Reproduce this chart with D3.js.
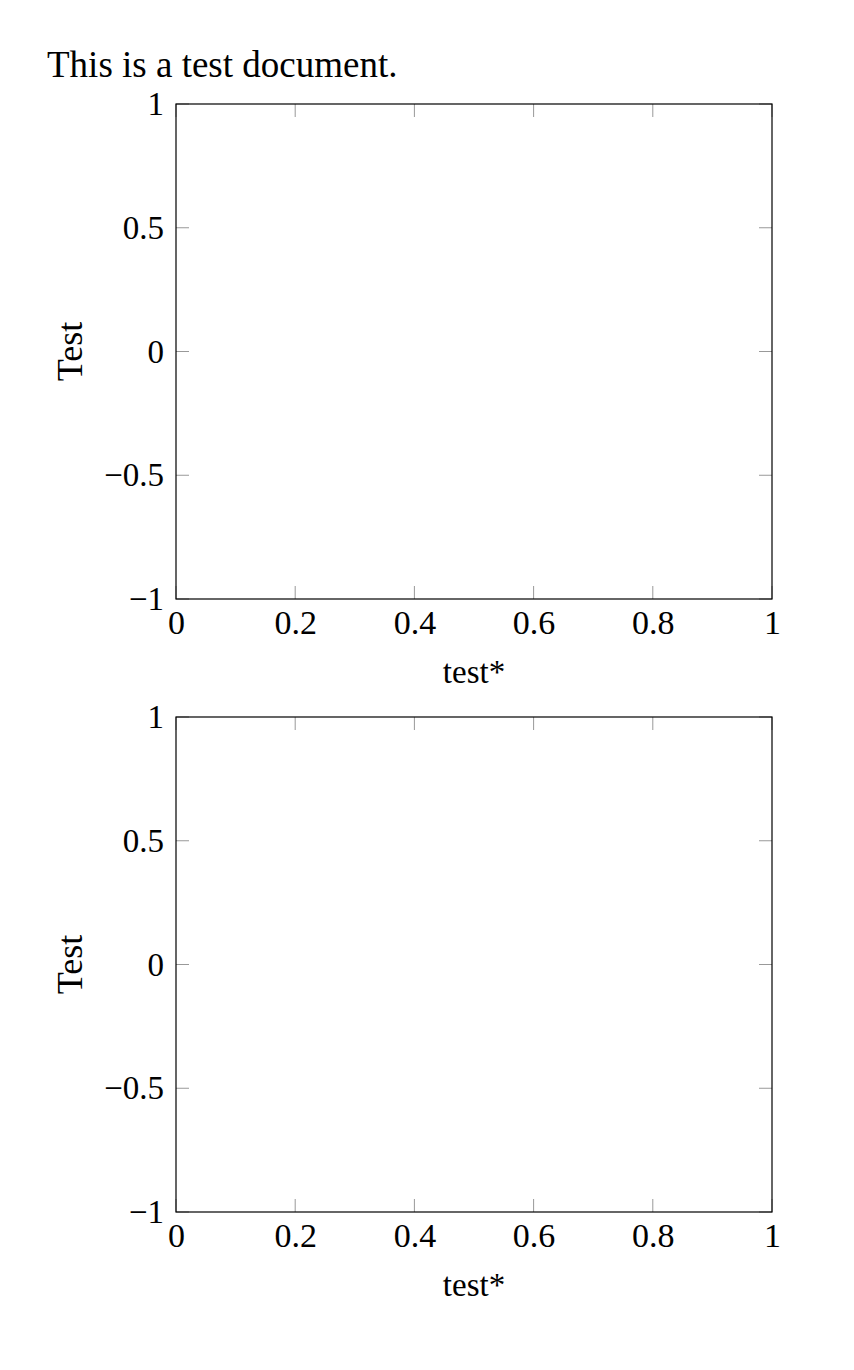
<!DOCTYPE html>
<html>
<head>
<meta charset="utf-8">
<script src="https://cdn.jsdelivr.net/npm/d3@7"></script>
<style>
  body { margin: 0; background: #fff; }
  text { font-family: "Liberation Serif", "DejaVu Serif", serif; fill: #000; }
</style>
</head>
<body>
<div id="chart"></div>
<script>
// axis settings for both (empty) plots
var xDomain = [0, 1];
var yDomain = [-1, 1];
var xTicks = [0, 0.2, 0.4, 0.6, 0.8, 1];
var yTicks = [-1, -0.5, 0, 0.5, 1];
var xLabel = "test*";
var yLabel = "Test";
var plotTops = [104, 717];

var margin = {left: 176, right: 82},
    width = 854 - margin.left - margin.right,
    height = 495;

var svg = d3.select("#chart")
  .append("svg")
    .attr("width", 854)
    .attr("height", 1370);

svg.append("text")
    .attr("x", 47)
    .attr("y", 77)
    .style("font-size", "37px")
    .text("This is a test document.");

var x = d3.scaleLinear().domain(xDomain).range([0, width]);
var y = d3.scaleLinear().domain(yDomain).range([height, 0]);

plotTops.forEach(function(top) {
    var g = svg.append("g")
        .attr("transform", "translate(" + margin.left + "," + top + ")");

    // inner ticks on all four sides, grey
    var tickLen = 13;
    g.selectAll(".xtick")
        .data(xTicks)
        .enter().append("path")
        .attr("d", function(d) {
            return "M" + x(d) + "," + height + "v" + (-tickLen) +
                   "M" + x(d) + ",0v" + tickLen;
        })
        .attr("stroke", "#999")
        .attr("stroke-width", 1);

    g.selectAll(".ytick")
        .data(yTicks)
        .enter().append("path")
        .attr("d", function(d) {
            return "M0," + y(d) + "h" + tickLen +
                   "M" + width + "," + y(d) + "h" + (-tickLen);
        })
        .attr("stroke", "#999")
        .attr("stroke-width", 1);

    // bottom axis labels
    var xAxis = g.append("g")
        .attr("transform", "translate(0," + height + ")")
        .call(d3.axisBottom(x).tickValues(xTicks).tickSize(0).tickPadding(11)
            .tickFormat(d3.format("")));
    xAxis.select(".domain").remove();
    xAxis.selectAll("text")
        .style("font-family", "'Liberation Serif', serif")
        .style("font-size", "34px")
        .attr("dy", "0.71em");

    // left axis labels
    var yAxis = g.append("g")
        .call(d3.axisLeft(y).tickValues(yTicks).tickSize(0).tickPadding(12)
            .tickFormat(d3.format("")));
    yAxis.select(".domain").remove();
    yAxis.selectAll("text")
        .style("font-family", "'Liberation Serif', serif")
        .style("font-size", "33px");

    // frame
    g.append("rect")
        .attr("width", width)
        .attr("height", height)
        .attr("fill", "none")
        .attr("stroke", "#000")
        .attr("stroke-width", 1.2);

    g.append("text")
        .attr("text-anchor", "middle")
        .attr("x", width / 2)
        .attr("y", height + 84)
        .style("font-size", "33px")
        .text(xLabel);

    g.append("text")
        .attr("text-anchor", "middle")
        .attr("transform", "translate(" + (82 - margin.left) + "," + (height / 2) + ") rotate(-90)")
        .style("font-size", "36px")
        .text(yLabel);
});
</script>
</body>
</html>
